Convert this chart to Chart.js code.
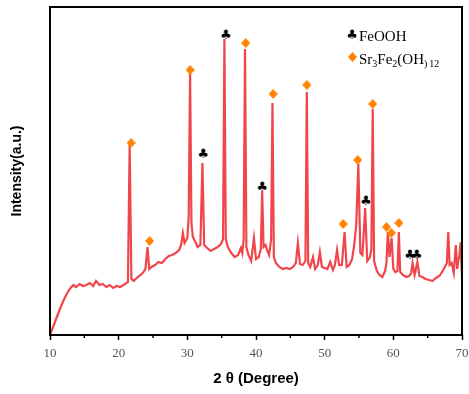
<!DOCTYPE html>
<html>
<head>
<meta charset="utf-8">
<script src="https://cdn.jsdelivr.net/npm/chart.js@4.4.1/dist/chart.umd.min.js"></script>
<style>
  html, body { margin: 0; padding: 0; background: #fff; }
  #wrap { width: 469px; height: 394px; }
</style>
</head>
<body>
<div id="wrap"><canvas id="xrd"></canvas></div>
<script>
// XRD pattern (intensity in arbitrary units)
const twoTheta = [
  10.0, 10.5, 11.0, 11.5, 12.0, 12.5, 13.0, 13.4, 13.8, 14.3, 14.8, 15.3, 15.8, 16.3, 16.7, 17.2,
  17.7, 18.2, 18.7, 19.2, 19.7, 20.2, 20.7, 21.35, 21.6, 21.85, 22.2, 22.6, 23.0, 23.5, 23.9, 24.2,
  24.45, 24.8, 25.3, 25.8, 26.3, 26.8, 27.3, 27.8, 28.3, 28.8, 29.1, 29.35, 29.6, 30.0, 30.2, 30.4,
  30.6, 30.8, 31.1, 31.5, 31.9, 32.2, 32.45, 32.9, 33.4, 33.9, 34.4, 34.9, 35.2, 35.4, 35.6, 35.9,
  36.4, 36.9, 37.4, 37.8, 38.0, 38.2, 38.4, 38.6, 38.9, 39.3, 39.7, 40.0, 40.4, 40.7, 40.9, 41.1,
  41.4, 41.6, 41.9, 42.2, 42.4, 42.6, 42.9, 43.4, 43.9, 44.4, 44.9, 45.4, 45.8, 46.1, 46.4, 46.8,
  47.2, 47.4, 47.6, 47.9, 48.3, 48.6, 49.0, 49.3, 49.6, 50.0, 50.4, 50.8, 51.2, 51.5, 51.8, 52.1,
  52.5, 52.9, 53.2, 53.6, 54.0, 54.3, 54.6, 54.9, 55.2, 55.5, 55.9, 56.2, 56.6, 56.8, 57.0, 57.2,
  57.6, 58.0, 58.4, 58.8, 59.0, 59.2, 59.45, 59.75, 60.0, 60.3, 60.6, 60.8, 61.0, 61.4, 61.9, 62.3,
  62.6, 62.8, 63.1, 63.5, 63.8, 64.2, 64.7, 65.2, 65.7, 66.2, 66.7, 67.1, 67.5, 67.8, 68.0, 68.2,
  68.5, 68.8, 69.1, 69.3, 69.5, 69.6, 69.8, 70.0
];
const intensity = [
  0, 9, 18, 27, 35, 42, 47, 50, 48, 51, 49, 50, 52, 49, 54, 50,
  51, 48, 50, 47, 49, 48, 50, 53, 190, 56, 54, 57, 59, 62, 66, 88,
  66, 68, 70, 73, 72, 76, 79, 80, 82, 85, 90, 102, 92, 97, 118, 262,
  112, 98, 94, 88, 90, 172, 90, 87, 84, 86, 88, 91, 96, 296, 96, 88,
  82, 78, 80, 87, 82, 95, 286, 88, 80, 74, 97, 76, 78, 86, 144, 88,
  90, 85, 80, 95, 232, 78, 72, 68, 66, 67, 66, 68, 72, 92, 71, 70,
  74, 243, 72, 68, 78, 66, 70, 83, 68, 67, 66, 73, 65, 70, 85, 70,
  70, 103, 68, 70, 76, 90, 110, 171, 82, 80, 127, 74, 78, 86, 226, 74,
  64, 60, 58, 64, 72, 103, 78, 97, 66, 63, 64, 103, 63, 60, 58, 59,
  62, 72, 60, 73, 59, 58, 56, 55, 54, 57, 59, 63, 68, 72, 103, 70,
  72, 62, 90, 66, 76, 78, 93, 57
];

// phase markers
const diamondX = [21.8, 24.5, 30.4, 38.5, 42.5, 47.4, 52.7, 54.8, 57.0, 59.0, 59.7, 60.8];
const diamondY = [192, 94, 265, 292, 241, 250, 111, 175, 231, 108, 102, 112];
const clubX = [32.3, 35.6, 40.9, 56.0, 62.4, 63.4];
const clubY = [181, 300, 148, 134, 80, 80];

const xTicks = [10, 20, 30, 40, 50, 60, 70];
const xMinorTicks = [15, 25, 35, 45, 55, 65];

const lineColor = '#f0464b';
const diamondColor = '#ff8200';

function makeDiamond(w, h, color) {
  const c = document.createElement('canvas');
  c.width = w; c.height = h;
  const g = c.getContext('2d');
  g.fillStyle = color;
  g.beginPath();
  g.moveTo(w / 2, 0);
  g.lineTo(w, h / 2);
  g.lineTo(w / 2, h);
  g.lineTo(0, h / 2);
  g.closePath();
  g.fill();
  return c;
}

function makeClub(size) {
  const c = document.createElement('canvas');
  c.width = size; c.height = size;
  const g = c.getContext('2d');
  g.fillStyle = '#000';
  g.font = (size + 1) + 'px "DejaVu Sans"';
  g.textAlign = 'center';
  g.textBaseline = 'middle';
  g.fillText('\u2663', size / 2, size / 2 + 1);
  return c;
}

const diamondImg = makeDiamond(9, 10, diamondColor);
const clubImg = makeClub(12);

// frame, minor ticks and the legend with subscripts
const framePlugin = {
  id: 'frame',
  afterDraw(chart) {
    const { ctx, chartArea: a, scales } = chart;
    ctx.save();
    ctx.strokeStyle = '#000';
    ctx.lineWidth = 2;
    ctx.strokeRect(a.left, a.top, a.right - a.left, a.bottom - a.top);

    ctx.lineWidth = 1.5;
    xMinorTicks.forEach((v) => {
      const px = scales.x.getPixelForValue(v);
      ctx.beginPath();
      ctx.moveTo(px, a.bottom);
      ctx.lineTo(px, a.bottom + 3);
      ctx.stroke();
    });

    // legend
    ctx.drawImage(clubImg, 346, 29);
    ctx.drawImage(diamondImg, 348, 52);
    ctx.fillStyle = '#000';
    ctx.textBaseline = 'alphabetic';
    ctx.font = '15px "Liberation Serif"';
    ctx.fillText('FeOOH', 359, 41);
    let x = 359;
    const y = 64;
    const parts = [['Sr', 0], ['3', 1], ['Fe', 0], ['2', 1], ['(OH', 0], [')', 1], ['12', 1]];
    parts.forEach(([t, sub]) => {
      ctx.font = sub ? '10px "Liberation Serif"' : '15px "Liberation Serif"';
      ctx.fillText(t, x, sub ? y + 3 : y);
      x += ctx.measureText(t).width + (t === ')' ? 2 : 0);
    });
    ctx.restore();
  },
};

new Chart(document.getElementById('xrd'), {
  type: 'line',
  data: {
    datasets: [
      {
        data: twoTheta.map((t, i) => ({ x: t, y: intensity[i] })),
        borderColor: lineColor,
        borderWidth: 2.2,
        pointRadius: 0,
        tension: 0,
        order: 2,
      },
      {
        type: 'scatter',
        data: diamondX.map((t, i) => ({ x: t, y: diamondY[i] })),
        pointStyle: diamondImg,
        order: 1,
      },
      {
        type: 'scatter',
        data: clubX.map((t, i) => ({ x: t, y: clubY[i] })),
        pointStyle: clubImg,
        order: 1,
      },
    ],
  },
  options: {
    responsive: true,
    maintainAspectRatio: false,
    animation: false,
    layout: { padding: { top: 7, right: 0, left: 0, bottom: 0 } },
    plugins: {
      legend: { display: false },
      tooltip: { enabled: false },
    },
    scales: {
      x: {
        type: 'linear',
        min: 10,
        max: 70,
        afterBuildTicks: (scale) => {
          scale.ticks = xTicks.map((v) => ({ value: v }));
        },
        afterFit: (scale) => {
          scale.height = 59;
          scale.paddingRight = 7;
        },
        ticks: {
          color: '#555',
          padding: 6,
          font: { family: '"Liberation Serif"', size: 13 },
        },
        grid: {
          drawOnChartArea: false,
          color: '#000',
          tickLength: 5,
          tickWidth: 1.5,
        },
        border: { display: false },
        title: {
          display: true,
          text: '2 θ (Degree)',
          color: '#000',
          font: { family: '"Liberation Sans"', size: 15, weight: 'bold' },
          padding: { top: 0, bottom: 6 },
        },
      },
      y: {
        min: 0,
        max: 328,
        afterFit: (scale) => { scale.width = 50; },
        ticks: { display: false },
        grid: { display: false },
        border: { display: false },
        title: {
          display: true,
          text: 'Intensity(a.u.)',
          color: '#000',
          font: { family: '"Liberation Sans"', size: 14, weight: 'bold' },
          padding: { top: 9, bottom: 0 },
        },
      },
    },
  },
  plugins: [framePlugin],
});
</script>
</body>
</html>
